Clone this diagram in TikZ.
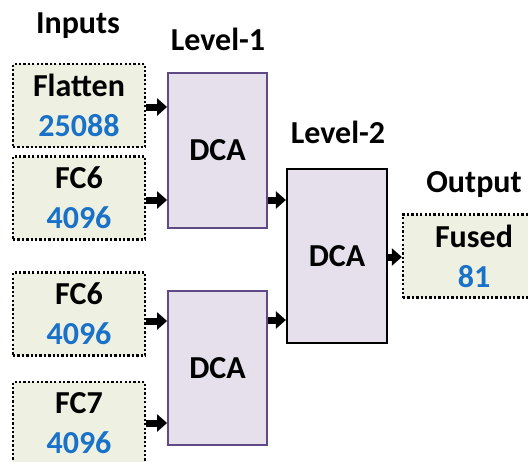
\documentclass[tikz,border=0pt]{standalone}
\usepackage{fontspec}
\setmainfont{Carlito}
\usetikzlibrary{arrows.meta}
\definecolor{inbg}{HTML}{EEF1E2}
\definecolor{dcabg}{HTML}{E5E0EC}
\definecolor{dcaline}{HTML}{5F4A86}
\definecolor{numblue}{HTML}{1A72C8}
\tikzset{
  txt/.style={font=\fontsize{32}{40}\selectfont\bfseries},
  inbox/.style={txt, draw=black, fill=inbg, line width=2.3pt,
    dash pattern=on 2.3pt off 2.1pt, minimum width=132pt, minimum height=83pt,
    inner sep=0pt, align=center},
  dcabox/.style={txt, draw=dcaline, fill=dcabg, line width=1.8pt,
    minimum width=99pt, inner sep=0pt},
  topbox/.style={txt, draw=black, fill=dcabg, line width=2.2pt,
    minimum width=100pt, minimum height=174pt, inner sep=0pt},
  head/.style={txt, anchor=base, inner sep=0pt},
  arr/.style={line width=7pt, -{Triangle[length=10pt, width=17pt]}},
  num/.style={text=numblue}
}
\begin{document}
\begin{tikzpicture}[x=1pt, y=-1pt]
\useasboundingbox (0,0) rectangle (528,461);
\clip (0,0) rectangle (528,461);
\fill[white] (0,0) rectangle (528,461);

% column headings
\node[head] (hin) at (78,33) {Inputs};
\node[head] (hl1) at (218,50) {Level-1};
\node[head] (hl2) at (338,143) {Level-2};
\node[head] (hout) at (474,192) {Output};

% input feature boxes
\node[inbox] (in1) at (79,105.5) {Flatten\\\textcolor{numblue}{25088}};
\node[inbox] (in2) at (79,198) {FC6\\\textcolor{numblue}{4096}};
\node[inbox] (in3) at (79,314) {FC6\\\textcolor{numblue}{4096}};
\node[inbox] (in4) at (79,423.5) {FC7\\\textcolor{numblue}{4096}};

% first-level fusion blocks
\node[dcabox, minimum height=155pt] (d1) at (217.5,150.5) {DCA};
\node[dcabox, minimum height=154pt] (d2) at (217.5,368) {DCA};

% second-level fusion block
\node[topbox] (d3) at (337,256) {DCA};

% fused output
\node[inbox, minimum width=142pt] (out) at (474,256) {Fused\\\textcolor{numblue}{81}};

% connectors
\draw[arr] (in1.east |- 0,107) -- (d1.west |- 0,107);
\draw[arr] (in2.east |- 0,200) -- (d1.west |- 0,200);
\draw[arr] (in3.east |- 0,321) -- (d2.west |- 0,321);
\draw[arr] (in4.east |- 0,423) -- (d2.west |- 0,423);
\draw[arr] (d1.east |- 0,200) -- (d3.west |- 0,200);
\draw[arr] (d2.east |- 0,320) -- (d3.west |- 0,320);
\draw[arr] (d3.east |- 0,257) -- (out.west |- 0,257);
\end{tikzpicture}
\end{document}
